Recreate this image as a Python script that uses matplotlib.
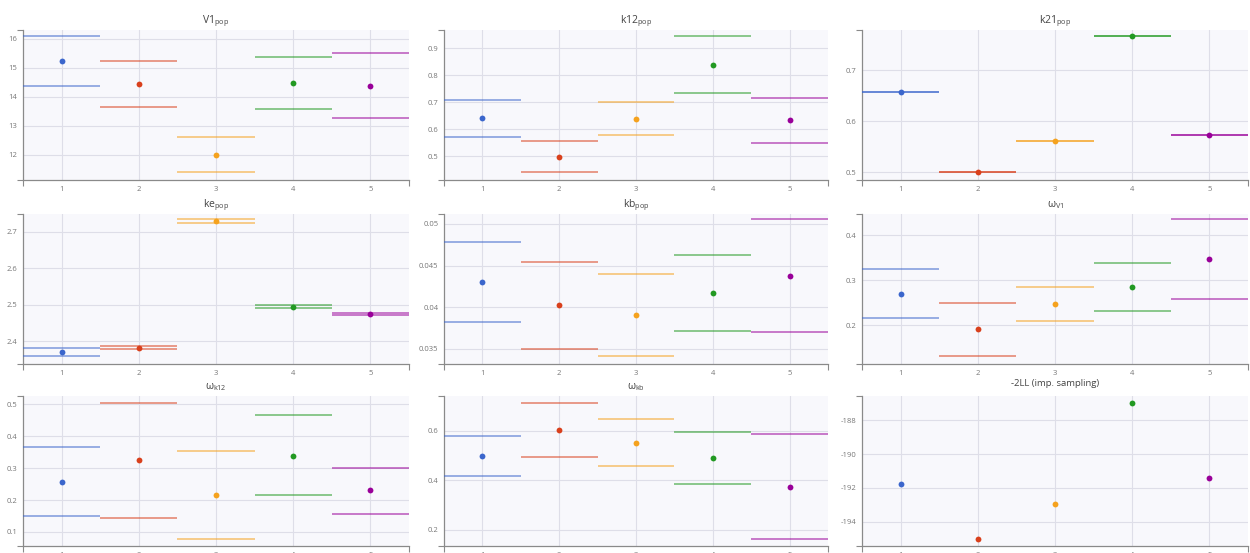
import matplotlib
matplotlib.use("Agg")
import matplotlib.pyplot as plt
from matplotlib.ticker import FixedLocator, FuncFormatter

plt.rcParams['font.family'] = ['Open Sans', 'DejaVu Sans']
plt.rcParams['mathtext.fontset'] = 'custom'
plt.rcParams['mathtext.rm'] = 'Open Sans'
plt.rcParams['mathtext.it'] = 'Open Sans'
plt.rcParams['axes.unicode_minus'] = False

runs = [1, 2, 3, 4, 5]
colors = ['#3b66cc', '#d9401c', '#f5a21e', '#229922', '#990099']

titles = [r'V1$_{\mathrm{pop}}$', r'k12$_{\mathrm{pop}}$', r'k21$_{\mathrm{pop}}$',
          r'ke$_{\mathrm{pop}}$', r'kb$_{\mathrm{pop}}$', r'$\omega_{\mathrm{V1}}$',
          r'$\omega_{\mathrm{k12}}$', r'$\omega_{\mathrm{kb}}$', '-2LL (imp. sampling)']

V1_est = [15.23, 14.45, 12.00, 14.48, 14.37]
V1_lo = [14.36, 13.65, 11.39, 13.59, 13.26]
V1_hi = [16.09, 15.25, 12.60, 15.37, 15.52]

k12_est = [0.640, 0.497, 0.637, 0.838, 0.632]
k12_lo = [0.571, 0.439, 0.578, 0.733, 0.550]
k12_hi = [0.709, 0.556, 0.699, 0.946, 0.715]

k21_est = [0.657, 0.500, 0.562, 0.767, 0.574]
k21_lo = [0.657, 0.500, 0.562, 0.767, 0.574]
k21_hi = [0.657, 0.500, 0.562, 0.767, 0.574]

ke_est = [2.371, 2.382, 2.730, 2.495, 2.474]
ke_lo = [2.360, 2.378, 2.725, 2.491, 2.472]
ke_hi = [2.383, 2.386, 2.735, 2.500, 2.477]

kb_est = [0.04304, 0.04020, 0.03907, 0.04168, 0.04376]
kb_lo = [0.03823, 0.03493, 0.03412, 0.03708, 0.03700]
kb_hi = [0.04784, 0.04548, 0.04404, 0.04627, 0.05056]

wV1_est = [0.270, 0.191, 0.2465, 0.2858, 0.3465]
wV1_lo = [0.2155, 0.1328, 0.2089, 0.2323, 0.2589]
wV1_hi = [0.3257, 0.250, 0.2858, 0.3376, 0.4347]

wk12_est = [0.257, 0.324, 0.2156, 0.339, 0.230]
wk12_lo = [0.150, 0.144, 0.078, 0.2145, 0.157]
wk12_hi = [0.366, 0.504, 0.353, 0.4666, 0.301]

wkb_est = [0.497, 0.603, 0.5517, 0.4898, 0.374]
wkb_lo = [0.416, 0.4953, 0.4564, 0.3863, 0.1637]
wkb_hi = [0.579, 0.7115, 0.646, 0.596, 0.587]

LL_est = [-191.79, -195.00, -192.92, -186.98, -191.39]

yticks = [[12, 13, 14, 15, 16], [0.5, 0.6, 0.7, 0.8, 0.9], [0.5, 0.6, 0.7],
          [2.4, 2.5, 2.6, 2.7], [0.035, 0.04, 0.045, 0.05], [0.2, 0.3, 0.4],
          [0.1, 0.2, 0.3, 0.4, 0.5], [0.2, 0.4, 0.6], [-194, -192, -190, -188]]
ylims = [(11.12, 16.31), (0.411, 0.968), (0.485, 0.779), (2.338, 2.749),
         (0.03316, 0.0512), (0.1144, 0.4465), (0.056, 0.526), (0.134, 0.7397),
         (-195.43, -186.57)]

data = [(V1_est, V1_lo, V1_hi), (k12_est, k12_lo, k12_hi), (k21_est, k21_lo, k21_hi),
        (ke_est, ke_lo, ke_hi), (kb_est, kb_lo, kb_hi), (wV1_est, wV1_lo, wV1_hi),
        (wk12_est, wk12_lo, wk12_hi), (wkb_est, wkb_lo, wkb_hi), (LL_est, None, None)]

W, H = 1250, 553
fig = plt.figure(figsize=(W / 100, H / 100), dpi=100)
cols = [(23, 409), (444, 828), (862, 1248)]
rows = [(30, 180), (214, 364), (396, 546)]

axis_col = '#8a8a8a'
grid_col = '#dedee8'
label_col = '#777777'

def fmt(v, pos):
    s = ('%.4f' % v).rstrip('0').rstrip('.')
    return s

for i in range(9):
    r, c = divmod(i, 3)
    x0, x1 = cols[c]
    y0, y1 = rows[r]
    ax = fig.add_axes([x0 / W, 1 - y1 / H, (x1 - x0) / W, (y1 - y0) / H])
    ax.set_facecolor('#f8f8fc')
    est, lo, hi = data[i]
    for k, x in enumerate(runs):
        if lo is not None:
            ax.hlines([lo[k], hi[k]], x - 0.5, x + 0.5, colors=colors[k],
                      linewidth=1.1, alpha=0.65, zorder=3)
        ax.plot([x], [est[k]], 'o', color=colors[k], markersize=4.2,
                markeredgewidth=0, zorder=4)
    ax.set_xlim(0.5, 5.5)
    ax.set_ylim(*ylims[i])
    ax.set_xticks(runs)
    ax.set_yticks(yticks[i])
    ax.yaxis.set_major_formatter(FuncFormatter(fmt))
    ax.xaxis.set_minor_locator(FixedLocator([0.5, 5.5]))
    ax.yaxis.set_minor_locator(FixedLocator(list(ylims[i])))
    ax.tick_params(which='major', length=0, labelsize=5.5, labelcolor=label_col, pad=4)
    ax.tick_params(which='minor', length=4, width=0.8, color=axis_col)
    ax.grid(True, which='major', color=grid_col, linewidth=0.8, zorder=0)
    ax.set_axisbelow(True)
    for s in ['top', 'right']:
        ax.spines[s].set_visible(False)
    for s in ['left', 'bottom']:
        ax.spines[s].set_color(axis_col)
        ax.spines[s].set_linewidth(0.9)
    if i == 8:
        ax.set_title(titles[i], fontsize=6.8, color='#444444', pad=7)
    else:
        ax.set_title(titles[i], fontsize=7.5, color='#444444', pad=5)

fig.savefig('out.png', dpi=100)
